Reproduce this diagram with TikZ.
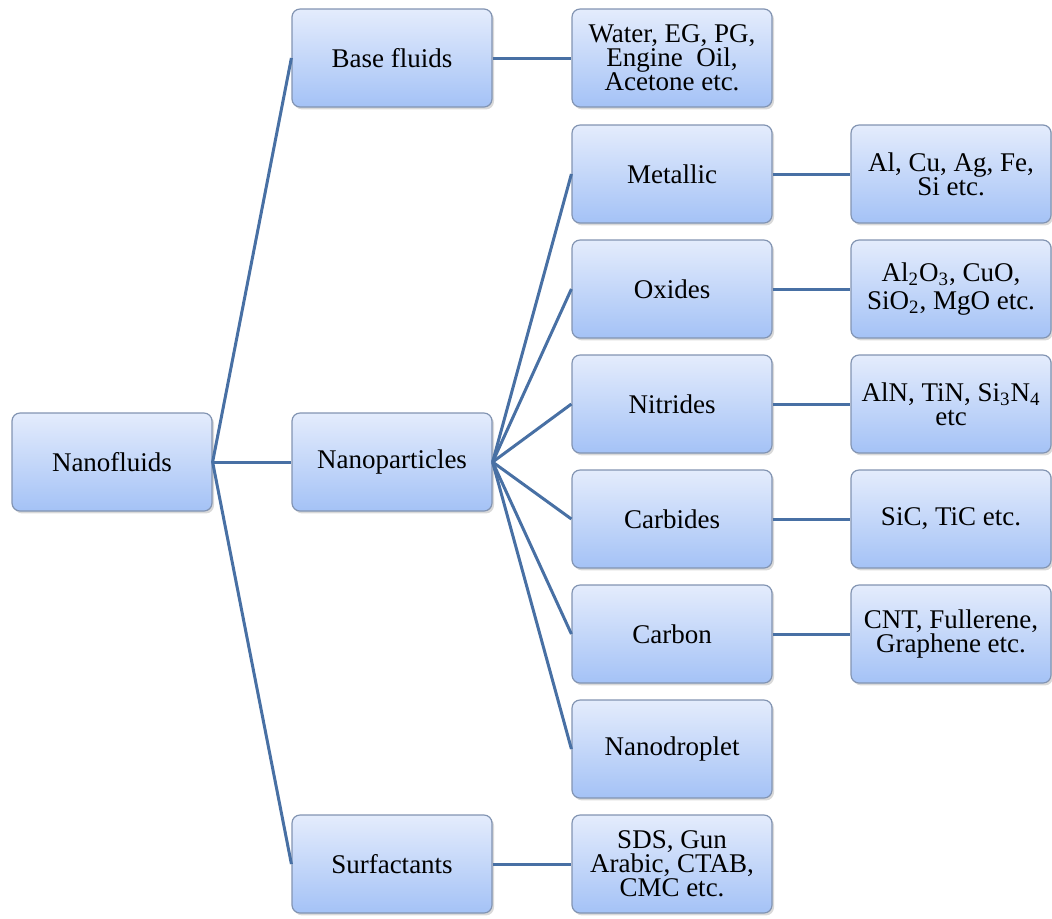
\documentclass[tikz,border=0pt]{standalone}
\usepackage{fontspec}
\setmainfont{Liberation Serif}
\usepackage{xcolor}
\usetikzlibrary{shadows}
\definecolor{linkblue}{RGB}{72,112,164}
\definecolor{boxedge}{RGB}{130,148,178}
\definecolor{boxtop}{RGB}{228,236,252}
\definecolor{boxbot}{RGB}{164,194,246}

\begin{document}
\begin{tikzpicture}[
    x=0.5pt, y=-0.5pt,
    font=\rmfamily\fontsize{13.5}{12}\selectfont,
    box/.style={draw=boxedge, line width=0.6pt, rounded corners=4pt, rectangle, minimum width=100pt, minimum height=49pt, align=center, top color=boxtop, bottom color=boxbot, drop shadow={shadow xshift=1pt, shadow yshift=-1.2pt, opacity=0.3}},
    link/.style={draw=linkblue, line width=1.5pt}
]
\useasboundingbox (0,0) rectangle (1052,918);

\node[box] (nanofluids) at (112,462) {Nanofluids};

\node[box] (base) at (392,58) {Base fluids};
\node[box] (particles) at (392,462) {Nanoparticles};
\node[box] (surf) at (392,864) {Surfactants};

\node[box] (basex) at (672,58) {Water, EG, PG,\\Engine\ \ Oil,\\Acetone etc.};
\node[box] (metallic) at (672,174) {Metallic};
\node[box] (oxides) at (672,289) {Oxides};
\node[box] (nitrides) at (672,404) {Nitrides};
\node[box] (carbides) at (672,519) {Carbides};
\node[box] (carbon) at (672,634) {Carbon};
\node[box] (droplet) at (672,749) {Nanodroplet};
\node[box] (surfx) at (672,864) {SDS, Gun\\Arabic, CTAB,\\CMC etc.};

\node[box] (metallicx) at (951,174) {Al, Cu, Ag, Fe,\\Si etc.};
\node[box, font=\rmfamily\fontsize{13.5}{14}\selectfont] (oxidesx) at (951,289) {Al\textsubscript{2}O\textsubscript{3}, CuO,\\SiO\textsubscript{2}, MgO etc.};
\node[box] (nitridesx) at (951,404) {AlN, TiN, Si\textsubscript{3}N\textsubscript{4}\\etc};
\node[box] (carbidesx) at (951,519) {SiC, TiC etc.};
\node[box] (carbonx) at (951,634) {CNT, Fullerene,\\Graphene etc.};

\draw[link] (nanofluids.east) -- (base.west);
\draw[link] (nanofluids.east) -- (particles.west);
\draw[link] (nanofluids.east) -- (surf.west);

\draw[link] (base.east) -- (basex.west);
\draw[link] (surf.east) -- (surfx.west);
\foreach \n in {metallic, oxides, nitrides, carbides, carbon, droplet}
    \draw[link] (particles.east) -- (\n.west);
\foreach \n in {metallic, oxides, nitrides, carbides, carbon}
    \draw[link] (\n.east) -- (\n x.west);

\end{tikzpicture}
\end{document}
